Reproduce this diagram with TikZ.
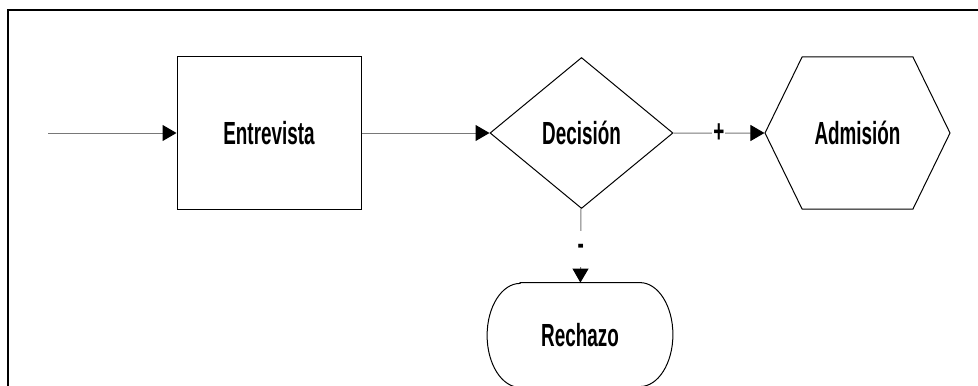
\documentclass[tikz,border=0pt]{standalone}
\usepackage{fontspec}
\setmainfont{Liberation Sans}[FakeStretch=0.59]
\usetikzlibrary{arrows.meta,shapes.geometric,shapes.symbols}
\definecolor{lineagris}{RGB}{120,120,120}
\tikzset{
  %% marco exterior, solo arriba y a la izquierda
  marco/.style={draw=black, line width=1pt, line join=miter},
  %% cajas del proceso
  caja/.style={
    rectangle, draw=black, line width=0.5pt, inner sep=0pt,
    minimum width=92pt, minimum height=76pt,
    font=\fontsize{16}{19}\selectfont\bfseries
  },
  rombo/.style={
    diamond, draw=black, line width=0.5pt, inner sep=0pt,
    minimum width=91.5pt, minimum height=75.5pt,
    font=\fontsize{16}{19}\selectfont\bfseries
  },
  hexagono/.style={
    signal, signal to=east and west, signal pointer angle=128,
    draw=black, line width=0.5pt, inner sep=0pt,
    minimum width=92.5pt, minimum height=76pt,
    font=\fontsize{16}{19}\selectfont\bfseries
  },
  %% terminal: el contorno se dibuja aparte, con esquinas elipticas
  terminal/.style={
    rectangle, inner sep=0pt, minimum width=92.5pt, minimum height=52pt,
    font=\fontsize{16}{19}\selectfont\bfseries
  },
  borde/.style={draw=black, line width=0.5pt},
  conector/.style={
    draw=lineagris, line width=0.5pt,
    -{Triangle[length=7pt,width=8pt,fill=black,color=black]}
  },
  signo/.style={fill=white, inner sep=0.5pt,
    font=\fontsize{16}{19}\selectfont\bfseries},
}

\begin{document}
\begin{tikzpicture}[x=0.5pt, y=-0.5pt]

  %% ── Lienzo ────────────────────────────────────────────────
  \useasboundingbox (0,0) rectangle (978,385);
  \clip (0,0) rectangle (978,385);
  \draw[marco] (978,10) -- (8,10) -- (8,386);

  %% ── Nodos ─────────────────────────────────────────────────
  \coordinate (inicio) at (48,133);
  \node[caja]     (entrevista) at (269,133)   {Entrevista};
  \node[rombo]    (decision)   at (581.5,133) {Decisión};
  \node[hexagono] (admision)   at (857.5,133) {Admisión};
  \node[terminal] (rechazo)    at (580,335)   {Rechazo};

  \draw[borde] ([xshift=16.5pt]rechazo.north west)
    -- ([xshift=-16.5pt]rechazo.north east)
    arc[start angle=90, end angle=0, x radius=16.5pt, y radius=26pt]
    arc[start angle=0, end angle=-90, x radius=16.5pt, y radius=26pt]
    -- ([xshift=16.5pt]rechazo.south west)
    arc[start angle=-90, end angle=-180, x radius=16.5pt, y radius=26pt]
    arc[start angle=180, end angle=90, x radius=16.5pt, y radius=26pt]
    -- cycle;

  %% ── Conectores ────────────────────────────────────────────
  \draw[conector] (inicio) -- (entrevista);
  \draw[conector] (entrevista) -- (decision);
  \draw[conector] (decision) -- node[signo] {+} (admision);
  \draw[conector] (decision) -- node[signo, pos=0.55, minimum height=18pt] {-} (rechazo);

\end{tikzpicture}
\end{document}
